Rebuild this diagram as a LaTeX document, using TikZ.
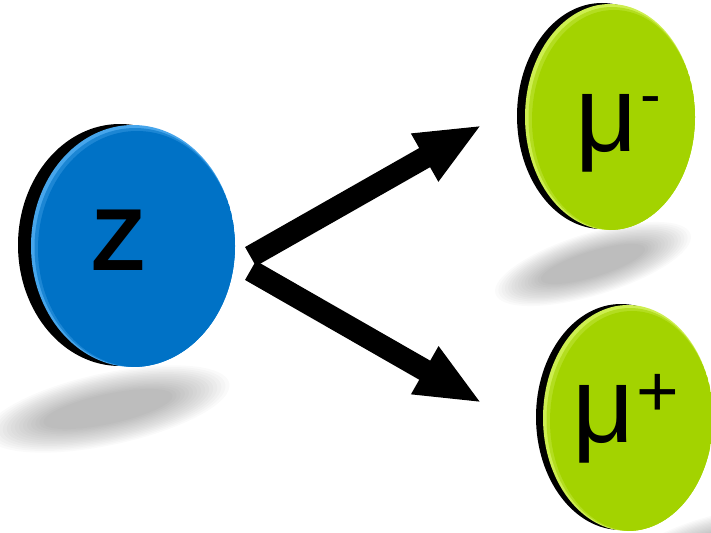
\documentclass[tikz,border=0pt]{standalone}
\usepackage{fontspec}
\setmainfont{Liberation Sans}
\usetikzlibrary{shapes.geometric,arrows.meta}
\definecolor{zblue}{RGB}{0,114,198}
\definecolor{zbluelt}{RGB}{70,165,235}
\definecolor{mugreen}{RGB}{163,211,0}
\definecolor{mugreenlt}{RGB}{205,238,80}
\newcommand\mysoftshadow[5]{%
  \foreach \k in {0,...,14}{%
    \fill[black,opacity=0.019,rotate around={#5:(#1,#2)}] (#1,#2) ellipse [x radius={#3*(1-\k/30)}, y radius={#4*(1-\k/24)}];
  }}
\newcommand\mybevel[5]{% center x, y, rx, ry, colour
  \begin{scope}
    \clip (#1,#2) ellipse [x radius=#3, y radius=#4];
    \fill[#5,opacity=0.6] (#1+2,#2+1.5) ellipse [x radius=#3-1.5, y radius=#4-1.5];
    \fill[#5] (#1+4,#2+3) ellipse [x radius=#3-3, y radius=#4-3];
  \end{scope}}
\begin{document}
\begin{tikzpicture}[x=1pt,y=-1pt,
  disc/.style={ellipse, inner sep=0pt, draw=none},
  bigarrow/.style={line width=22pt, -{Triangle[length=66pt,width=50pt]}},
  lbl/.style={anchor=base west, inner sep=0pt, text=black}]
\useasboundingbox (0,0) rectangle (711,532);
% shadows
\mysoftshadow{108}{409}{124}{36}{12}
\mysoftshadow{593}{264}{102}{31}{17}
\mysoftshadow{708}{550}{95}{32}{17}
% rims
\fill[black] (120,245) ellipse [x radius=102, y radius=121];
\fill[black] (602,116) ellipse [x radius=85, y radius=113];
\fill[black] (621,417) ellipse [x radius=85, y radius=113];
% faces
\node[disc, fill=zbluelt, minimum width=204pt, minimum height=242pt] (Z) at (133,246) {};
\mybevel{133}{246}{102}{121}{zblue}
\node[disc, fill=mugreenlt, minimum width=170pt, minimum height=226pt] (mum) at (610,117) {};
\mybevel{610}{117}{85}{113}{mugreen}
\node[disc, fill=mugreenlt, minimum width=170pt, minimum height=226pt] (mup) at (628,418) {};
\mybevel{628}{418}{85}{113}{mugreen}
% labels
\node[lbl, font=\fontsize{88}{88}\selectfont\bfseries] (Zt) at (91,270) {Z};
\node[lbl, font=\fontsize{108}{108}\selectfont] (mumt) at (575,151) {μ};
\node[lbl, font=\fontsize{62}{62}\selectfont] (mums) at (640,116) {-};
\node[lbl, font=\fontsize{108}{108}\selectfont] (mupt) at (572,442) {μ};
\node[lbl, font=\fontsize{73}{73}\selectfont] (mups) at (636,416.5) {+};
% arrows
\coordinate (s1) at (250.5,256.6);
\coordinate (t1) at (482,125);
\coordinate (s2) at (250.5,270.4);
\coordinate (t2) at (482,403);
\draw[bigarrow] (s1) -- (t1);
\draw[bigarrow] (s2) -- (t2);
\end{tikzpicture}
\end{document}
